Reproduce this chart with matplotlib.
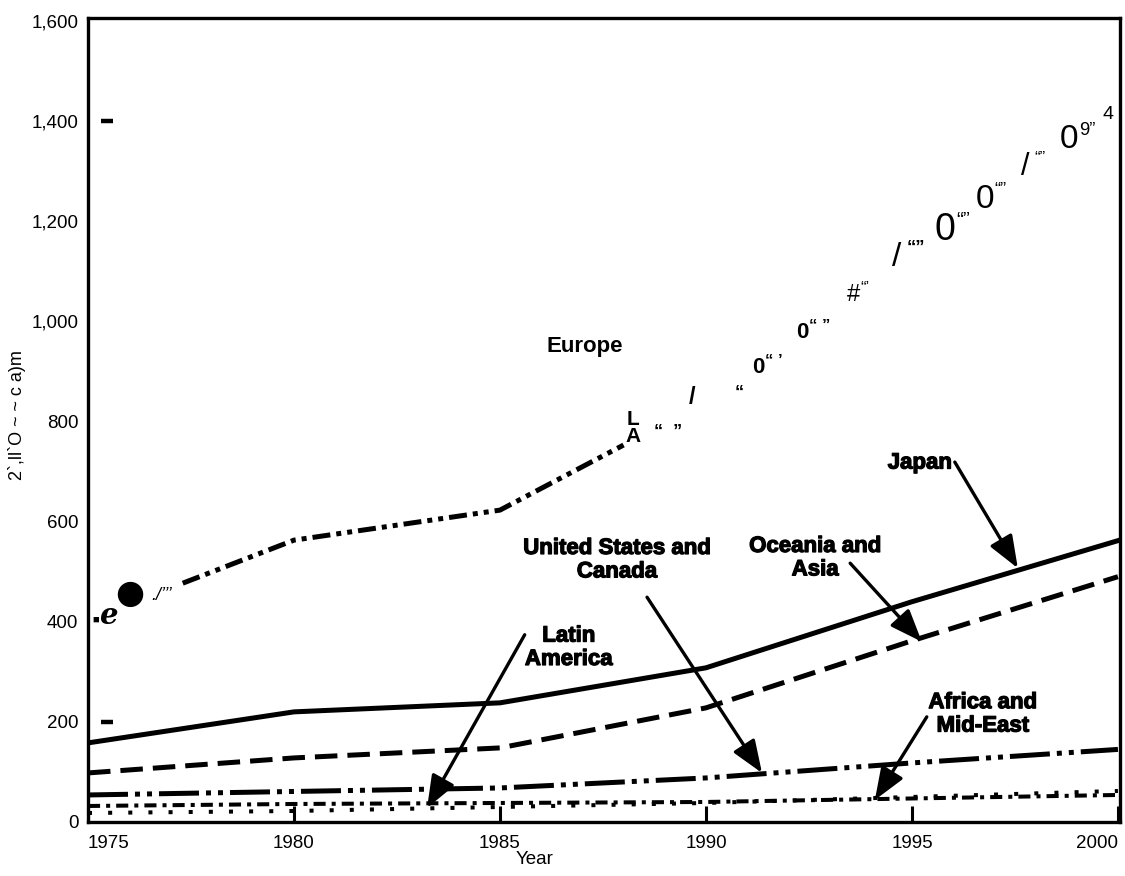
import matplotlib.pyplot as plt
import matplotlib.patheffects as pe

plt.rcParams['font.family'] = ['Liberation Sans', 'DejaVu Sans']

# -------------------------
# data
# -------------------------
years = [1975, 1980, 1985, 1990, 1995, 2000]
japan = [158, 220, 238, 308, 440, 562]
oceania_asia = [98, 128, 148, 228, 362, 490]
us_canada = [54, 61, 68, 88, 118, 145]
latin_america = [32, 36, 38, 40, 47, 54]
africa_mideast = [18, 22, 30, 38, 50, 62]

# Europe: only the lower part of the curve survived the scan
europe_years = [1977.3, 1980, 1985, 1988]
europe = [477, 563, 623, 753]

x_ticks = [1975, 1980, 1985, 1990, 1995, 2000]
y_ticks = [0, 200, 400, 600, 800, 1000, 1200, 1400, 1600]
y_tick_labels = ["0", "200", "400", "600", "800", "1,000", "1,200", "1,400", "1,600"]
scan_ticks = [200, 1400]   # stray tick stubs left by the scanner

# -------------------------
# figure
# -------------------------
W, H = 1125, 876
fig = plt.figure(figsize=(W / 100, H / 100), dpi=100)
ax = fig.add_axes([88 / W, 1 - 822 / H, (1120 - 88) / W, (822 - 18) / H])

lw = 3.6
ax.plot(years, japan, color="black", lw=lw)
ax.plot(years, oceania_asia, color="black", lw=lw,
        linestyle=(0, (4.5, 2.0)), dash_capstyle="butt")
ax.plot(years, us_canada, color="black", lw=lw,
        linestyle=(0, (8, 1.4, 1, 1.4, 1, 1.4)), dash_capstyle="butt")
ax.plot(europe_years, europe, color="black", lw=lw,
        linestyle=(0, (3.6, 1.2, 1, 1.2, 1, 1.2)), dash_capstyle="butt")
ax.plot(years, latin_america, color="black", lw=2.9,
        linestyle=(0, (3, 1.5, 1, 1.5)), dash_capstyle="butt")
ax.plot(years, africa_mideast, color="black", lw=2.9,
        linestyle=(0, (1, 4)), dash_capstyle="butt")

ax.plot([x_ticks[0] + 0.45] * len(scan_ticks), scan_ticks, ls="none",
        marker="_", ms=9, mew=3.2, color="black")

# -------------------------
# axes
# -------------------------
ax.set_xlim(1975, 2000.05)
ax.set_ylim(0, 1606)
ax.set_xticks(x_ticks)
ax.set_yticks(y_ticks, y_tick_labels)
ax.tick_params(axis="x", direction="in", length=11.5, width=2.2, pad=9, labelsize=13.5)
ax.tick_params(axis="y", length=0, pad=7, labelsize=13.5)
xl = ax.get_xticklabels()
xl[0].set_ha("left")
xl[-1].set_ha("right")
for s in ax.spines.values():
    s.set_linewidth(2.4)

ax.set_xlabel("Year", fontsize=13.5, va="top")
ax.xaxis.set_label_coords((535 - 88) / 1032, -(851 - 822) / 804)
fig.text(17 / W, 1 - 415 / H, "2`,ll`O ~ ~ c a)m", rotation=90,
         ha="center", va="center", fontsize=13)

# -------------------------
# region labels + arrows
# -------------------------
heavy = [pe.withStroke(linewidth=0.9, foreground="black")]
lab = dict(fontsize=16, fontweight="bold", ha="center", va="center",
           linespacing=1.15, path_effects=heavy)
ax.text(1987.06, 949, "Europe", fontsize=16, fontweight="bold", ha="center", va="center")
ax.text(1995.19, 717, "Japan", **lab)
ax.text(1992.65, 527, "Oceania and\nAsia", **lab)
ax.text(1987.84, 523, "United States and\nCanada", **lab)
ax.text(1986.67, 348, "Latin\nAmerica", **lab)
ax.text(1996.72, 215, "Africa and\nMid-East", **lab)

arrow = dict(arrowstyle="-|>,head_length=0.9,head_width=0.35", lw=2.4,
             color="black", shrinkA=0, shrinkB=0, mutation_scale=22)
ax.annotate("", xy=(1997.57, 507), xytext=(1996.04, 719), arrowprops=arrow)
ax.annotate("", xy=(1995.24, 360), xytext=(1993.5, 517), arrowprops=arrow)
ax.annotate("", xy=(1991.36, 98), xytext=(1988.57, 449), arrowprops=arrow)
ax.annotate("", xy=(1983.23, 28), xytext=(1985.6, 374), arrowprops=arrow)
ax.annotate("", xy=(1994.1, 44), xytext=(1995.36, 210), arrowprops=arrow)

# -------------------------
# OCR debris where the Europe curve used to be
# -------------------------
ax.text(1975.2, 405, "\u25a0", fontsize=8, ha="center", va="center")
ax.text(1975.5, 412, "e", fontsize=21, fontweight="bold", fontstyle="italic",
        family="DejaVu Serif", ha="center", va="center")
ax.text(1976.02, 457, "\u25cf", fontsize=24, ha="center", va="center", family="DejaVu Sans")
ax.text(1976.8, 452, "./\u2019\u2019\u2019", fontsize=13, fontstyle="italic",
        ha="center", va="center")

europe_trail = [
    (1988.23, 787, "L\nA", "", 15, "bold"),
    (1989.08, 779, "\u201c  \u201d", "", 13, "bold"),
    (1989.66, 847, "/", "", 17, "bold"),
    (1990.80, 857, "\u201c", "", 13, "bold"),
    (1991.26, 907, "0", "\u201c \u2019", 16, "bold"),
    (1992.33, 977, "0", "\u201c \u201d", 16, "bold"),
    (1993.57, 1053, "#", "\u201c\u2019", 17, "normal"),
    (1994.64, 1127, "/", "\u201c\u201d", 24, "bold"),
    (1995.80, 1183, "0", "\u201c\u201d", 27, "normal"),
    (1996.77, 1243, "0", "\u201c\u201d", 24, "normal"),
    (1997.74, 1309, "/", "\u201c\u201d", 22, "normal"),
    (1998.81, 1363, "0", "9\u201d", 24, "normal"),
    (1999.75, 1413, "4", "", 14, "normal"),
]
for x, y, main, sup, size, weight in europe_trail:
    ax.text(x, y, main, fontsize=size, fontweight=weight if size < 20 else "normal",
            ha="center", va="center", linespacing=0.85)
    if sup:
        ax.annotate(sup, xy=(x, y), xytext=(size * 0.3, size * 0.28),
                    textcoords="offset points", fontsize=max(12, size * 0.55),
                    fontweight=weight, ha="left", va="center")

fig.savefig("out.png", dpi=100, facecolor="white")
